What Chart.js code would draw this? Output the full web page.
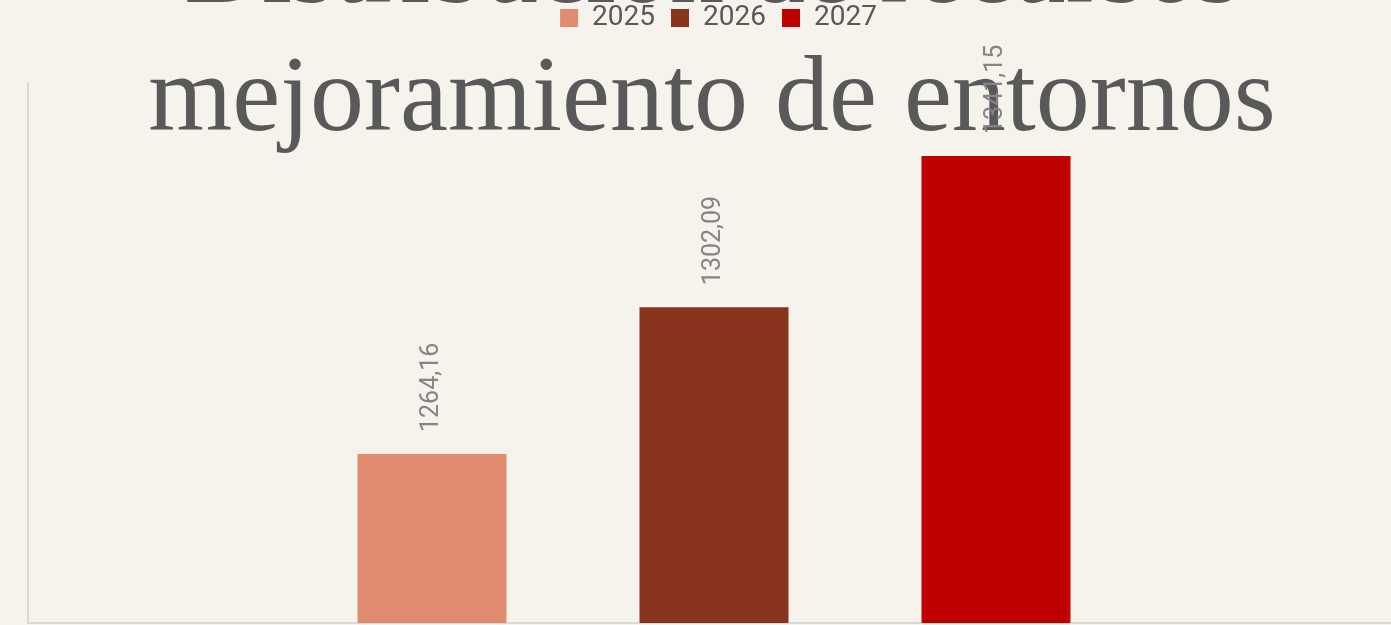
<!DOCTYPE html>
<html lang="es">
<head>
<meta charset="utf-8">
<title>Distribución de recursos mejoramiento de entornos</title>
<script src="https://cdn.jsdelivr.net/npm/chart.js"></script>
<style>
  html, body { margin: 0; padding: 0; overflow: hidden; background: #f6f2ec; }
  #wrap { position: relative; width: 1437px; height: 650px; }
</style>
</head>
<body>
<div id="wrap"><canvas id="recursosChart"></canvas></div>
<script>
// Datos del gráfico
const categories = ['Recursos'];
const seriesNames = ['2025', '2026', '2027'];
const values2025 = [1264.16];
const values2026 = [1302.09];
const values2027 = [1341.15];
const seriesColors = ['#e18c70', '#89351e', '#c00000'];
const titleLines = ['Distribución de recursos', 'mejoramiento de entornos'];
const yMin = 1220.5;
const yMax = 1360;

// Big serif title, drawn over the plot like in the original
const titlePlugin = {
    id: 'bigTitle',
    beforeDatasetsDraw(chart) {
        const { ctx, chartArea } = chart;
        const cx = (chartArea.left + chartArea.right) / 2 - 2;
        ctx.save();
        ctx.font = '108px "Liberation Serif", "Times New Roman", serif';
        ctx.fillStyle = '#595959';
        ctx.textAlign = 'center';
        ctx.textBaseline = 'alphabetic';
        ctx.fillText(titleLines[0], cx, 2);
        ctx.fillText(titleLines[1], cx, 130);
        ctx.restore();
    }
};

// Rotated value labels above each bar
const labelPlugin = {
    id: 'barLabels',
    afterDatasetsDraw(chart) {
        const { ctx } = chart;
        ctx.save();
        ctx.font = '25px Roboto';
        ctx.fillStyle = '#858585';
        ctx.textAlign = 'left';
        ctx.textBaseline = 'middle';
        chart.data.datasets.forEach((ds, i) => {
            chart.getDatasetMeta(i).data.forEach((bar, j) => {
                const text = ds.data[j].toFixed(2).replace('.', ',');
                ctx.save();
                ctx.translate(bar.x, bar.y - 22);
                ctx.rotate(-Math.PI / 2);
                ctx.fillText(text, 0, 0);
                ctx.restore();
            });
        });
        ctx.restore();
    }
};

const seriesValues = [values2025, values2026, values2027];

const hiddenAxis = (size, key) => ({
    grid: { display: false, drawTicks: false },
    border: { display: false },
    ticks: { display: false },
    afterFit: (s) => { s[key] = size; }
});

new Chart(document.getElementById('recursosChart'), {
    type: 'bar',
    data: {
        labels: categories,
        datasets: seriesNames.map((name, i) => ({
            label: name,
            data: seriesValues[i],
            backgroundColor: seriesColors[i],
            borderWidth: 0,
            categoryPercentage: 0.6166,
            barPercentage: 0.5284
        }))
    },
    options: {
        responsive: true,
        maintainAspectRatio: false,
        animation: false,
        layout: { padding: { top: -12, left: 0, right: 0, bottom: 0 } },
        plugins: {
            legend: {
                position: 'top',
                labels: {
                    boxWidth: 18,
                    boxHeight: 18,
                    padding: 16,
                    color: '#595959',
                    font: { family: 'Roboto', size: 28 }
                }
            },
            tooltip: { enabled: false }
        },
        scales: {
            x: {
                position: 'bottom',
                grid: { display: false, drawTicks: false },
                border: { display: true, color: '#d9d9d9', width: 2 },
                ticks: { display: false },
                afterFit: (s) => { s.height = 27; }
            },
            xTop: Object.assign({ type: 'category', position: 'top' }, hiddenAxis(41, 'height')),
            y: {
                min: yMin,
                max: yMax,
                grid: { display: false, drawTicks: false },
                border: { display: true, color: '#d9d9d9', width: 2 },
                ticks: { display: false },
                afterFit: (s) => { s.width = 28; }
            },
            yRight: Object.assign({ type: 'linear', position: 'right' }, hiddenAxis(37, 'width'))
        }
    },
    plugins: [titlePlugin, labelPlugin]
});
</script>
</body>
</html>
